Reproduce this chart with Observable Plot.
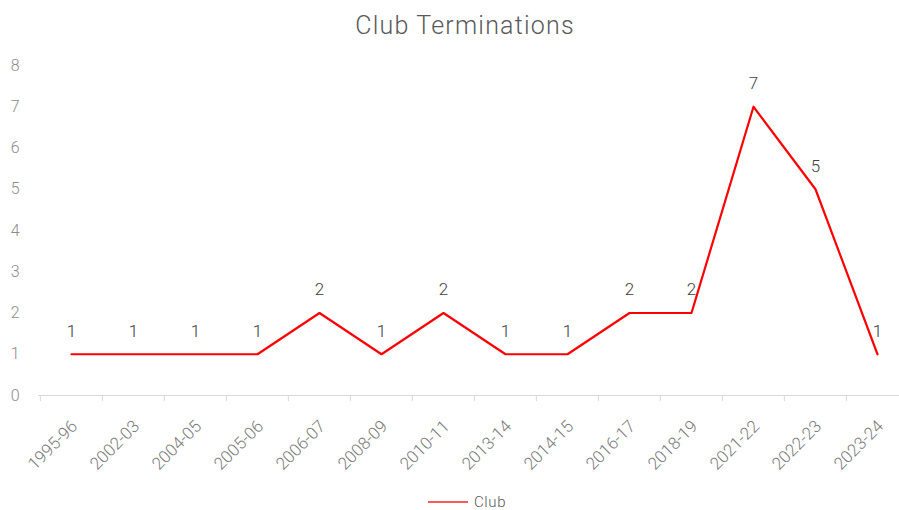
<!DOCTYPE html>
<html>
<head>
<meta charset="utf-8">
<script src="https://cdn.jsdelivr.net/npm/d3@7"></script>
<script src="https://cdn.jsdelivr.net/npm/@observablehq/plot@0.6"></script>
<style>
  html, body { margin: 0; padding: 0; background: #fff; width: 899px; height: 510px; overflow: hidden; font-family: Roboto, sans-serif; }
  #title { height: 50px; line-height: 51px; text-align: center; font-size: 25px; font-weight: 300; color: #595959; letter-spacing: 1.2px; padding-left: 31px; box-sizing: border-box; }
  #legend { height: 20px; display: flex; align-items: center; justify-content: flex-start; padding-left: 428px; padding-top: 3px; box-sizing: border-box; font-size: 15px; font-weight: 300; color: #595959; letter-spacing: 0.6px; }
  #legend .sw { display: inline-block; width: 40px; height: 2px; background: #ff5a5a; margin-right: 6px; }
</style>
</head>
<body>
<div id="title">Club Terminations</div>
<div id="chart"></div>
<div id="legend"><span class="sw"></span><span>Club</span></div>
<script>
const seasons = ["1995-96","2002-03","2004-05","2005-06","2006-07","2008-09","2010-11","2013-14","2014-15","2016-17","2018-19","2021-22","2022-23","2023-24"];
const club = [1,1,1,1,2,1,2,1,1,2,2,7,5,1];
const yTicks = [0,1,2,3,4,5,6,7,8];
const seriesName = "Club";

const data = seasons.map((s, i) => ({season: s, value: club[i]}));
const xStart = 38, xEnd = 910;
const bw = (xEnd - xStart) / seasons.length;

const chart = Plot.plot({
  width: 899,
  height: 440,
  marginLeft: 38,
  marginRight: -11,
  marginTop: 15,
  marginBottom: 95,
  style: {fontFamily: "Roboto, sans-serif", background: "#fff", overflow: "visible"},
  x: {type: "band", domain: seasons, range: [xStart, xEnd], padding: 0, axis: null},
  y: {domain: [0, 8], axis: null},
  marks: [
    Plot.ruleY([0], {stroke: "#d9d9d9", strokeWidth: 1}),
    Plot.axisX({tickSize: 6, dx: -bw / 2, text: null, stroke: "#d9d9d9", anchor: "bottom", label: null}),
    Plot.axisX({tickSize: 0, tickRotate: -45, tickPadding: 17, fontSize: 17, fontWeight: 300, fill: "#7a7a7a", anchor: "bottom", dx: 3, dy: 11, label: null, style: {letterSpacing: "0.4px"}}),
    Plot.axisY({ticks: yTicks, tickSize: 0, tickPadding: 19, fontSize: 16, fontWeight: 300, fill: "#8c8c8c", anchor: "left", tickFormat: d3.format("d"), label: null}),
    Plot.line(data, {x: "season", y: "value", stroke: "#ff0000", strokeWidth: 2.2}),
    Plot.text(data, {x: "season", y: "value", text: d => String(d.value), dy: -23, fontSize: 17, fontWeight: 300, fill: "#404040"})
  ]
});
document.getElementById("chart").appendChild(chart);
</script>
</body>
</html>
